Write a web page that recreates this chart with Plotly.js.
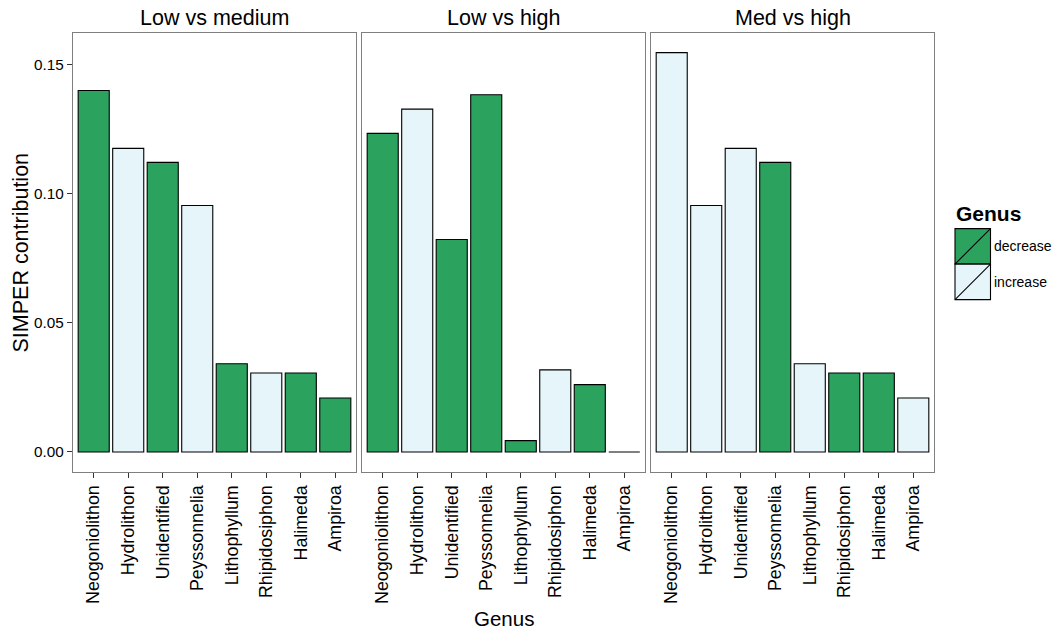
<!DOCTYPE html>
<html>
<head>
<meta charset="utf-8">
<script src="https://cdn.plot.ly/plotly-3.0.1.min.js"></script>
<style>html,body{margin:0;padding:0;background:#fff;}#chart{width:1059px;height:631px;}</style>
</head>
<body>
<div id="chart"></div>
<script>
// ---- data ----
var genus = ["Neogoniolithon","Hydrolithon","Unidentified","Peyssonnelia","Lithophyllum","Rhipidosiphon","Halimeda","Ampiroa"];
var panelTitles = ["Low vs medium","Low vs high","Med vs high"];
var lowMed    = [0.1400, 0.1176, 0.1122, 0.0955, 0.0342, 0.0306, 0.0306, 0.0209];
var lowMedDir = ["decrease","increase","decrease","increase","decrease","increase","decrease","decrease"];
var lowHigh    = [0.1234, 0.1328, 0.0823, 0.1384, 0.0044, 0.0318, 0.0261, 0.0000];
var lowHighDir = ["decrease","increase","decrease","decrease","decrease","increase","decrease","decrease"];
var medHigh    = [0.1547, 0.0955, 0.1176, 0.1122, 0.0342, 0.0306, 0.0306, 0.0209];
var medHighDir = ["increase","increase","increase","decrease","increase","decrease","decrease","increase"];
var legendLabels = ["decrease","increase"];
var yTicks = [0, 0.05, 0.10, 0.15];

var fillColor = {decrease: "#2ca25f", increase: "#e5f5f9"};
var FONT = "Liberation Sans, Arial, Helvetica, sans-serif";

// ---- geometry (pixels) ----
var W = 1059, H = 631;
var L = 73, R = 934, T = 32.7, B = 471.7;
var pw = R - L, ph = B - T;
var gap = 6, panelW = (pw - 2 * gap) / 3;
function px2x(p) { return (p - L) / pw; }
function px2y(p) { return (B - p) / ph; }

var series = [lowMed, lowHigh, medHigh];
var dirs = [lowMedDir, lowHighDir, medHighDir];
var traces = [];
var layout = {
  width: W, height: H,
  margin: {l: L, r: W - R, t: T, b: H - B, pad: 0},
  paper_bgcolor: "#fff", plot_bgcolor: "#fff",
  showlegend: false,
  font: {family: FONT, color: "#000"},
  bargap: 0.1,
  shapes: [], annotations: []
};

for (var i = 0; i < 3; i++) {
  var xa = i === 0 ? "x" : "x" + (i + 1);
  var ya = i === 0 ? "y" : "y" + (i + 1);
  traces.push({
    type: "bar",
    x: genus,
    y: series[i],
    xaxis: xa, yaxis: ya,
    width: 0.9,
    marker: {
      color: dirs[i].map(function (d) { return fillColor[d]; }),
      line: {color: "#000", width: 1.1}
    },
    hoverinfo: "x+y"
  });
  var d0 = (i * (panelW + gap)) / pw;
  var d1 = (i * (panelW + gap) + panelW) / pw;
  layout[i === 0 ? "xaxis" : "xaxis" + (i + 1)] = {
    domain: [d0, d1],
    anchor: ya,
    type: "category",
    categoryorder: "array", categoryarray: genus,
    range: [-0.6, 7.6],
    showline: true, mirror: true, linecolor: "#7f7f7f", linewidth: 1.2,
    ticks: "outside", ticklen: 5, tickcolor: "#333", tickwidth: 1,
    tickangle: -90,
    tickfont: {family: FONT, size: 17.8, color: "#000"},
    showgrid: false, zeroline: false, fixedrange: true
  };
  var yax = {
    domain: [0, 1],
    anchor: xa,
    range: [-0.00775, 0.1623],
    showline: true, mirror: true, linecolor: "#7f7f7f", linewidth: 1.2,
    showgrid: false, zeroline: false, fixedrange: true
  };
  if (i === 0) {
    yax.tickvals = yTicks;
    yax.ticktext = yTicks.map(function (v) { return v.toFixed(2); });
    yax.ticks = "outside"; yax.ticklen = 5; yax.tickcolor = "#333"; yax.tickwidth = 1;
    yax.tickfont = {family: FONT, size: 15.3, color: "#000"};
  } else {
    yax.matches = "y";
    yax.showticklabels = false;
    yax.ticks = "";
  }
  layout[i === 0 ? "yaxis" : "yaxis" + (i + 1)] = yax;

  layout.annotations.push({
    xref: "paper", yref: "paper",
    x: (d0 + d1) / 2, y: px2y(18),
    text: panelTitles[i], showarrow: false,
    xanchor: "center", yanchor: "middle",
    font: {family: FONT, size: 21.5, color: "#000"}
  });
}

// y-axis title
layout.annotations.push({
  xref: "paper", yref: "paper",
  x: px2x(20), y: 0.5,
  text: "SIMPER contribution", showarrow: false, textangle: -90,
  xanchor: "center", yanchor: "middle",
  font: {family: FONT, size: 21.5, color: "#000"}
});

// x-axis title
layout.annotations.push({
  xref: "paper", yref: "paper",
  x: 0.5, y: px2y(618),
  text: "Genus", showarrow: false, xanchor: "center", yanchor: "middle",
  font: {family: FONT, size: 20.5, color: "#000"}
});

// legend (drawn manually, ggplot style)
layout.annotations.push({
  xref: "paper", yref: "paper",
  x: px2x(954), y: px2y(213),
  text: "<b>Genus</b>", showarrow: false, xanchor: "left", yanchor: "middle",
  font: {family: FONT, size: 21, color: "#000"}
});
var keyTop = 228.3, keyH = 35.5, keyL = 955, keyR = 990.5;
legendLabels.forEach(function (lab, k) {
  var t = keyTop + k * keyH, b = t + keyH;
  layout.shapes.push({
    type: "rect", xref: "paper", yref: "paper",
    x0: px2x(keyL), x1: px2x(keyR), y0: px2y(b), y1: px2y(t),
    fillcolor: fillColor[lab], line: {color: "#000", width: 1.1}, layer: "above"
  });
  layout.shapes.push({
    type: "line", xref: "paper", yref: "paper",
    x0: px2x(keyL), x1: px2x(keyR), y0: px2y(b), y1: px2y(t),
    line: {color: "#000", width: 1.1}, layer: "above"
  });
  layout.annotations.push({
    xref: "paper", yref: "paper",
    x: px2x(992), y: px2y((t + b) / 2),
    text: lab, showarrow: false, xanchor: "left", yanchor: "middle",
    font: {family: FONT, size: 14, color: "#000"}
  });
});

Plotly.newPlot("chart", traces, layout, {displayModeBar: false, staticPlot: true});
</script>
</body>
</html>
